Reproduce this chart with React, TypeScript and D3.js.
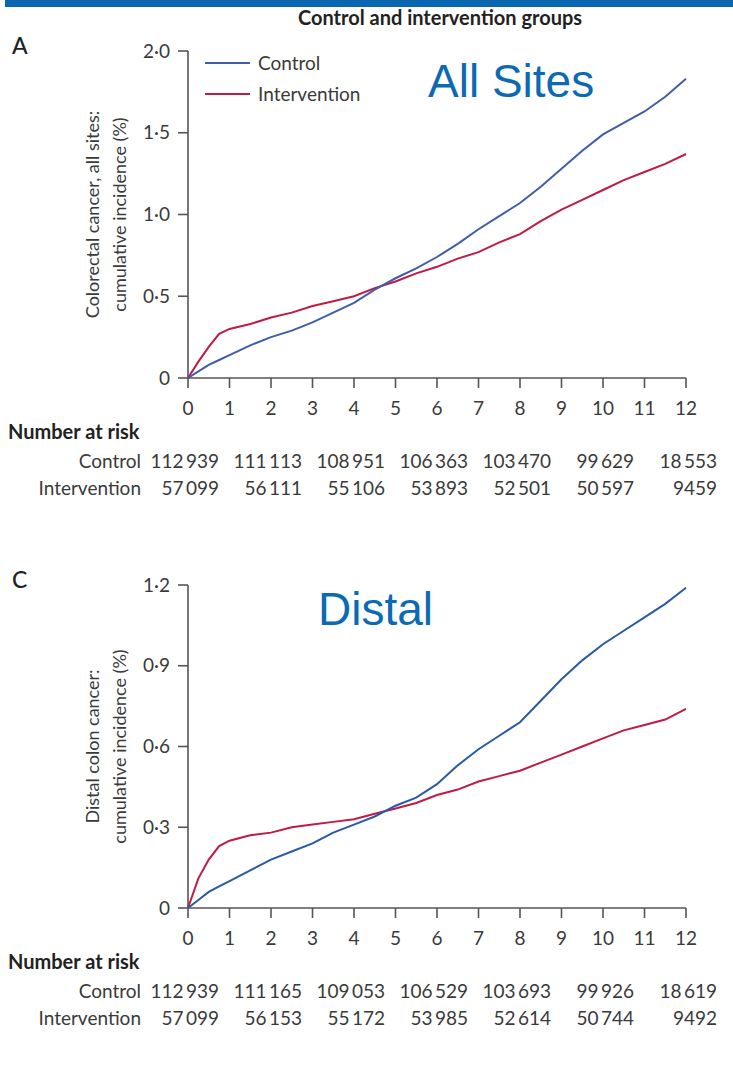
import * as d3 from "d3";

const years = [0, 0.25, 0.5, 0.75, 1, 1.5, 2, 2.5, 3, 3.5, 4, 4.5, 5, 5.5, 6, 6.5, 7, 7.5, 8, 8.5, 9, 9.5, 10, 10.5, 11, 11.5, 12];

// panel A: colorectal cancer, all sites
const allControl = [0, 0.04, 0.08, 0.11, 0.14, 0.2, 0.25, 0.29, 0.34, 0.4, 0.46, 0.54, 0.61, 0.67, 0.74, 0.82, 0.91, 0.99, 1.07, 1.17, 1.28, 1.39, 1.49, 1.56, 1.63, 1.72, 1.83];
const allIntervention = [0, 0.1, 0.19, 0.27, 0.3, 0.33, 0.37, 0.4, 0.44, 0.47, 0.5, 0.55, 0.59, 0.64, 0.68, 0.73, 0.77, 0.83, 0.88, 0.96, 1.03, 1.09, 1.15, 1.21, 1.26, 1.31, 1.37];

// panel C: distal colon cancer
const distalControl = [0, 0.03, 0.06, 0.08, 0.1, 0.14, 0.18, 0.21, 0.24, 0.28, 0.31, 0.34, 0.38, 0.41, 0.46, 0.53, 0.59, 0.64, 0.69, 0.77, 0.85, 0.92, 0.98, 1.03, 1.08, 1.13, 1.19];
const distalIntervention = [0, 0.11, 0.18, 0.23, 0.25, 0.27, 0.28, 0.3, 0.31, 0.32, 0.33, 0.35, 0.37, 0.39, 0.42, 0.44, 0.47, 0.49, 0.51, 0.54, 0.57, 0.6, 0.63, 0.66, 0.68, 0.7, 0.74];

const xTicks = [0, 1, 2, 3, 4, 5, 6, 7, 8, 9, 10, 11, 12];
const riskYears = [0, 2, 4, 6, 8, 10, 12];

const allYTicks = [0, 0.5, 1, 1.5, 2];
const allYLabels = ["0", "0\u00b75", "1\u00b70", "1\u00b75", "2\u00b70"];
const distalYTicks = [0, 0.3, 0.6, 0.9, 1.2];
const distalYLabels = ["0", "0\u00b73", "0\u00b76", "0\u00b79", "1\u00b72"];

// thin space between thousands, journal style
const allRiskControl = ["112\u2009939", "111\u2009113", "108\u2009951", "106\u2009363", "103\u2009470", "99\u2009629", "18\u2009553"];
const allRiskIntervention = ["57\u2009099", "56\u2009111", "55\u2009106", "53\u2009893", "52\u2009501", "50\u2009597", "9459"];
const distalRiskControl = ["112\u2009939", "111\u2009165", "109\u2009053", "106\u2009529", "103\u2009693", "99\u2009926", "18\u2009619"];
const distalRiskIntervention = ["57\u2009099", "56\u2009153", "55\u2009172", "53\u2009985", "52\u2009614", "50\u2009744", "9492"];

const width = 733;
const height = 1076;
const marginLeft = 188;
const plotRight = 686;
const font = "Lato, 'Open Sans', sans-serif";
const fs = 19;
const textColor = "#3a3a3a";
const axisColor = "#555";
const red = "#c01a45";

const xScale = d3.scaleLinear().domain([0, 12]).range([marginLeft, plotRight]);

type PanelProps = {
  letter: string;
  top: number;
  bottom: number;
  yMax: number;
  yTicks: number[];
  yLabels: string[];
  control: number[];
  intervention: number[];
  controlColor: string;
  yTitle: string[];
  tag: string;
  tagX: number;
  tagY: number;
  riskControl: string[];
  riskIntervention: string[];
  legend: boolean;
};

function Panel(p: PanelProps) {
  const yScale = d3.scaleLinear().domain([0, p.yMax]).range([p.bottom, p.top]);
  const line = d3
    .line<number>()
    .x((_, i) => xScale(years[i]))
    .y((d) => yScale(d));
  const midY = (p.top + p.bottom) / 2;

  return (
    <g>
      <text x={12} y={p.top + 3} fontSize={23} fontWeight="500" fill="#222" fontFamily={font}>
        {p.letter}
      </text>

      {/* y axis */}
      <line x1={marginLeft} x2={marginLeft} y1={p.top} y2={p.bottom} stroke={axisColor} strokeWidth={1.6} />
      {p.yTicks.map((t, i) => (
        <g key={t}>
          <line x1={marginLeft - 10} x2={marginLeft} y1={yScale(t)} y2={yScale(t)} stroke={axisColor} strokeWidth={1.6} />
          <text
            x={marginLeft - 18}
            y={yScale(t)}
            dy="0.35em"
            textAnchor="end"
            fontSize={fs}
            fill={textColor}
            fontFamily={font}>
            {p.yLabels[i]}
          </text>
        </g>
      ))}
      <g transform={`translate(0, ${midY}) rotate(-90)`}>
        <text x={0} y={99} textAnchor="middle" fontSize={18} fill={textColor} fontFamily={font}>
          {p.yTitle[0]}
        </text>
        <text x={0} y={126} textAnchor="middle" fontSize={18} fill={textColor} fontFamily={font}>
          {p.yTitle[1]}
        </text>
      </g>

      {/* x axis */}
      <line x1={marginLeft} x2={plotRight} y1={p.bottom} y2={p.bottom} stroke={axisColor} strokeWidth={1.6} />
      {xTicks.map((t) => (
        <g key={t}>
          <line x1={xScale(t)} x2={xScale(t)} y1={p.bottom} y2={p.bottom + 10} stroke={axisColor} strokeWidth={1.6} />
          <text x={xScale(t)} y={p.bottom + 37} textAnchor="middle" fontSize={fs} fill={textColor} fontFamily={font}>
            {t}
          </text>
        </g>
      ))}

      {/* curves */}
      <path d={line(p.intervention) ?? ""} fill="none" stroke={red} strokeWidth={2} />
      <path d={line(p.control) ?? ""} fill="none" stroke={p.controlColor} strokeWidth={2} />

      {p.legend && (
        <g fontFamily={font} fontSize={fs} fill={textColor}>
          <line x1={205} x2={250} y1={p.top + 12} y2={p.top + 12} stroke={p.controlColor} strokeWidth={2.2} />
          <text x={258} y={p.top + 12} dy="0.35em">Control</text>
          <line x1={205} x2={250} y1={p.top + 43} y2={p.top + 43} stroke={red} strokeWidth={2.2} />
          <text x={258} y={p.top + 43} dy="0.35em">Intervention</text>
        </g>
      )}

      <text x={p.tagX} y={p.tagY} fontSize={46} fill="#0b6ab2" fontFamily="Arial, 'Liberation Sans', sans-serif">
        {p.tag}
      </text>

      {/* number at risk */}
      <text x={8} y={p.bottom + 61} fontSize={20} fontWeight="700" fill="#222" fontFamily={font}>
        Number at risk
      </text>
      <text x={141} y={p.bottom + 90} textAnchor="end" fontSize={fs} fill={textColor} fontFamily={font}>
        Control
      </text>
      <text x={141} y={p.bottom + 117} textAnchor="end" fontSize={fs} fill={textColor} fontFamily={font}>
        Intervention
      </text>
      {riskYears.map((t, i) => (
        <g key={t} fontSize={fs} fill={textColor} fontFamily={font} textAnchor="end">
          <text x={xScale(t) + 31} y={p.bottom + 90}>
            {p.riskControl[i]}
          </text>
          <text x={xScale(t) + 31} y={p.bottom + 117}>
            {p.riskIntervention[i]}
          </text>
        </g>
      ))}
    </g>
  );
}

export default function App() {
  return (
    <div style={{ position: "absolute", left: 0, top: 0 }}>
      <svg width={width} height={height} style={{ display: "block", background: "#fff" }}>
        <rect x={5} y={0} width={width - 5} height={7} fill="#0a66b0" />
        <text x={440} y={25} textAnchor="middle" fontSize={20} fontWeight="700" fill="#222" fontFamily={font}>
          Control and intervention groups
        </text>

        <Panel
          letter="A"
          top={51}
          bottom={378}
          yMax={2}
          yTicks={allYTicks}
          yLabels={allYLabels}
          control={allControl}
          intervention={allIntervention}
          controlColor="#3f5ea9"
          yTitle={["Colorectal cancer, all sites:", "cumulative incidence (%)"]}
          tag="All Sites"
          tagX={428}
          tagY={97}
          riskControl={allRiskControl}
          riskIntervention={allRiskIntervention}
          legend={true}
        />
        <Panel
          letter="C"
          top={585}
          bottom={908}
          yMax={1.2}
          yTicks={distalYTicks}
          yLabels={distalYLabels}
          control={distalControl}
          intervention={distalIntervention}
          controlColor="#2a5aa6"
          yTitle={["Distal colon cancer:", "cumulative incidence (%)"]}
          tag="Distal"
          tagX={318}
          tagY={625}
          riskControl={distalRiskControl}
          riskIntervention={distalRiskIntervention}
          legend={false}
        />
      </svg>
    </div>
  );
}
